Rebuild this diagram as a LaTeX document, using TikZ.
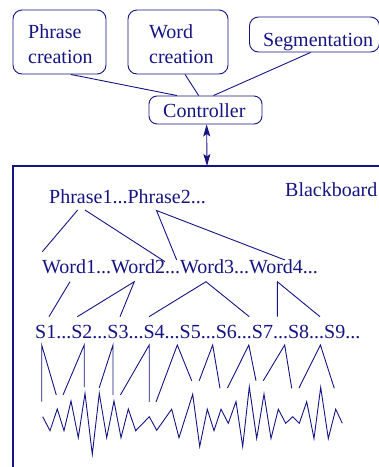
\documentclass[tikz,border=0pt]{standalone}
\usepackage{fontspec}
\setmainfont{Liberation Serif}
\usetikzlibrary{arrows.meta,calc}
\definecolor{ink}{RGB}{20,20,130}
\begin{document}
\begin{tikzpicture}[x=1pt,y=-1pt,
  every node/.style={text=ink,font=\fontsize{20}{25}\selectfont,inner sep=0pt},
  ln/.style={draw=ink,line width=0.9pt},
  box/.style={draw=ink,line width=0.9pt,rounded corners=9pt,rectangle},
  lbl/.style={anchor=base west},
  dbl/.style={{Stealth[length=12pt,width=7pt,inset=2.5pt]}-{Stealth[length=12pt,width=7pt,inset=2.5pt]}}]
\useasboundingbox (0,0) rectangle (379,467);
% top boxes
\node[box,minimum width=93pt,minimum height=64pt] (pc) at (59.5,42) {};
\node[lbl] (pct1) at (28,38) {Phrase};
\node[lbl] (pct2) at (28,63) {creation};
\node[box,minimum width=100pt,minimum height=64pt] (wc) at (178,42) {};
\node[lbl] (wct1) at (149,38) {Word};
\node[lbl] (wct2) at (149,63) {creation};
\node[box,minimum width=130pt,minimum height=35pt] (sg) at (314.5,34.5) {};
\node[lbl] (sgt) at (263,46) {Segmentation};
\node[box,minimum width=113pt,minimum height=28pt,rounded corners=8pt] (ct) at (205.5,110) {};
\node[lbl] (ctt) at (163,117) {Controller};
% connectors to controller
\draw[ln] ($(pc.south west)!0.62!(pc.south east)$) -- ($(ct.north west)!0.25!(ct.north east)$);
\draw[ln] ($(wc.south west)!0.57!(wc.south east)$) -- ($(ct.north west)!0.44!(ct.north east)$);
\draw[ln] ($(sg.south west)!0.47!(sg.south east)$) -- ($(ct.north west)!0.57!(ct.north east)$);
% blackboard
\coordinate (bbtop) at (207,166);
\draw[ln,line width=1.2pt] (13,467) -- (13,166) -- (379,166);
\draw[ln,dbl] ($(ct.south west)!0.51!(ct.south east)$) -- (bbtop);
\node[lbl] (bb) at (285,196) {Blackboard};
% text lines
\node[lbl] (ph) at (49,203) {Phrase1...Phrase2...};
\node[lbl] (wd) at (42,273) {Word1...Word2...Word3...Word4...};
\node[lbl] (ss) at (35,338) {S1...S2...S3...S4...S5...S6...S7...S8...S9...};
% phrase -> words
\coordinate (p1a) at (77.7,210); \coordinate (p1b) at (85,210); \coordinate (p2) at (156.5,210.5);
\coordinate (w1) at (42.3,251.7); \coordinate (w2) at (165,261.7);
\coordinate (w3) at (176.7,260); \coordinate (w4) at (285,260);
\draw[ln] (p1a) -- (w1);
\draw[ln] (p1b) -- (w2);
\draw[ln] (w3) -- (p2) -- (w4);
% words -> syllables
\draw[ln] (70,281.7) -- (49,316.7);
\draw[ln] (77.3,316.7) -- (134.3,281.7) -- (120,316.7);
\draw[ln] (149,316.7) -- (206,281.7) -- (249.3,316.7);
\draw[ln] (277.3,316.7) -- (277.3,281.7) -- (320,316.7);
% syllables -> signal
\draw[ln] (41.7,401.7) -- (41.7,345) -- (56.3,395);
\draw[ln] (63,395) -- (84.2,345) -- (84.2,387);
\draw[ln] (99.2,387.8) -- (113,345) -- (113,395);
\draw[ln] (120.4,395) -- (149.2,345) -- (149.2,401.8);
\draw[ln] (156,402) -- (177.3,345) -- (191.7,380.7);
\draw[ln] (199.2,380.7) -- (212.7,345) -- (220,388.3);
\draw[ln] (227.5,388) -- (248.8,345) -- (256,380.7);
\draw[ln] (263.3,380.7) -- (284.7,345) -- (291.7,388.3);
\draw[ln] (299,388) -- (320.4,345) -- (334.3,388.3);
% waveform
\draw[ln,line join=miter] (42.7,416.7) -- (50,430.7) -- (57.3,409) -- (64,430.7) -- (71,401) -- (78.3,437.7)
 -- (85,393.3) -- (92.3,454.3) -- (99.3,393.3) -- (106.7,437.7) -- (114,401) -- (121,437.7)
 -- (128.3,409) -- (135.7,430.7) -- (149.3,416.7) -- (156.7,430.3) -- (171.7,409.2) -- (179,437.7)
 -- (192.7,394.3) -- (199.7,446.5) -- (207.3,409.2) -- (214,430.7) -- (221,409.2) -- (228.3,423.3)
 -- (236,401.5) -- (242.7,446.5) -- (249.3,386.8) -- (256.7,438.5) -- (264,394) -- (271,438.5)
 -- (278.3,409.2) -- (285.7,423.3) -- (292.7,416.7) -- (299.3,423.3) -- (306.7,401.7) -- (314,438.5)
 -- (320.7,387.3) -- (328.3,438.5) -- (335.7,409.2) -- (342.3,423.3);
\end{tikzpicture}
\end{document}
